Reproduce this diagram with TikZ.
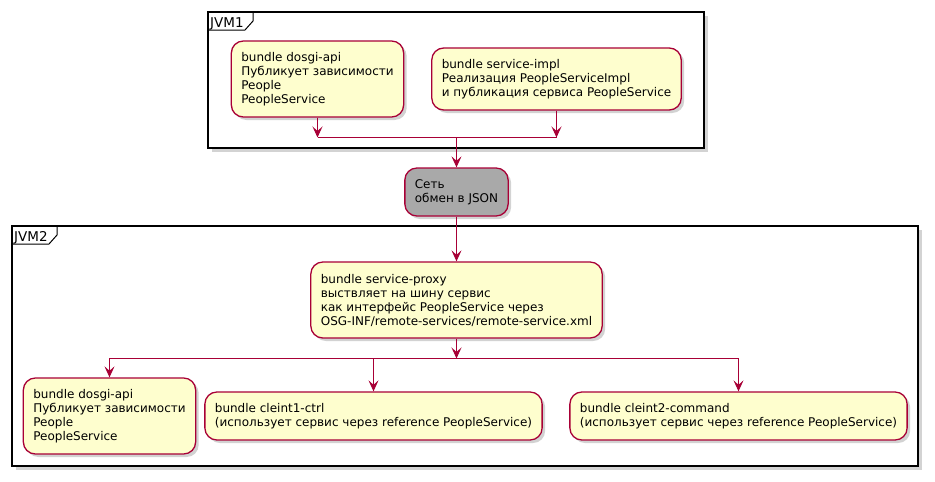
\documentclass[tikz,border=0pt]{standalone}
\usepackage{fontspec}
\setmainfont{DejaVu Sans}
\usetikzlibrary{shadows,arrows.meta}
\definecolor{actfill}{HTML}{FEFECE}
\definecolor{actline}{HTML}{A80036}
\definecolor{netfill}{HTML}{A9A9A9}
\tikzset{
    act/.style={draw=actline, fill=actfill, line width=1.3pt, rounded corners=12pt,
        align=left, inner xsep=10pt, inner ysep=0pt, font=\fontsize{12}{14}\selectfont,
        drop shadow={shadow xshift=3pt, shadow yshift=-3pt, opacity=0.35}},
    flow/.style={draw=actline, line width=1pt, -{Stealth[length=11pt,width=10pt,inset=4.5pt]}},
    jvmframe/.style={draw=black, line width=1.8pt, fill=white,
        drop shadow={shadow xshift=3.5pt, shadow yshift=-3.5pt, opacity=0.35}},
    jvmtab/.style={draw=black, line width=1pt},
}
\begin{document}
\begin{tikzpicture}[x=1pt, y=-1pt]
        \useasboundingbox (0,0) rectangle (935,482);
        % JVM frames
        \foreach \x/\y/\X/\Y/\name in {208/12/704/148/JVM1, 12/226/918/466/JVM2}{
            \draw[jvmframe] (\x,\y) rectangle (\X,\Y);
            \draw[jvmtab] (\x,\y) -- (\x+45,\y) -- (\x+45,\y+9) -- (\x+37,\y+18) -- (\x,\y+18);
            \node[anchor=base west, inner sep=0pt, font=\fontsize{13.5}{15}\selectfont] (\name) at (\x+2,\y+15) {\name};
        }
        % JVM1
        \node[act, minimum width=171pt, minimum height=76pt] (api1) at (317.5,79) {bundle dosgi-api\\Публикует зависимости\\People\\PeopleService};
        \node[act, minimum width=249pt, minimum height=62pt] (impl) at (556.5,79) {bundle service-impl\\Реализация PeopleServiceImpl\\и публикация сервиса PeopleService};
        \coordinate (join) at (456.5,137.5);
        \draw[flow] (api1) -- (api1 |- join);
        \draw[flow] (impl) -- (impl |- join);
        \draw[actline, line width=1pt] (api1 |- join) -- (impl |- join);
        % network
        \node[act, fill=netfill, minimum width=103pt, minimum height=48pt] (net) at (456.5,192) {Сеть\\обмен в JSON};
        \draw[flow] (join) -- (join |- net.north);
        % JVM2
        \node[act, minimum width=288pt, minimum height=76pt] (proxy) at (456.5,300) {bundle service-proxy\\выствляет на шину сервис\\как интерфейс PeopleService через\\OSG-INF/remote-services/remote-service.xml};
        \draw[flow] (net) -- (proxy);
        \node[act, minimum width=172pt, minimum height=76pt] (api2) at (109.5,416) {bundle dosgi-api\\Публикует зависимости\\People\\PeopleService};
        \node[act, minimum width=337pt, minimum height=48pt] (ctrl) at (373.5,416) {bundle cleint1-ctrl\\(использует сервис через reference PeopleService)};
        \node[act, minimum width=336pt, minimum height=48pt] (cmd) at (738.5,416) {bundle cleint2-command\\(использует сервис через reference PeopleService)};
        \coordinate (fork) at (456.5,358.5);
        \draw[flow] (proxy) -- (fork);
        \foreach \target in {api2, ctrl, cmd}{
            \draw[flow] (fork) -| (\target);
        }
\end{tikzpicture}
\end{document}
